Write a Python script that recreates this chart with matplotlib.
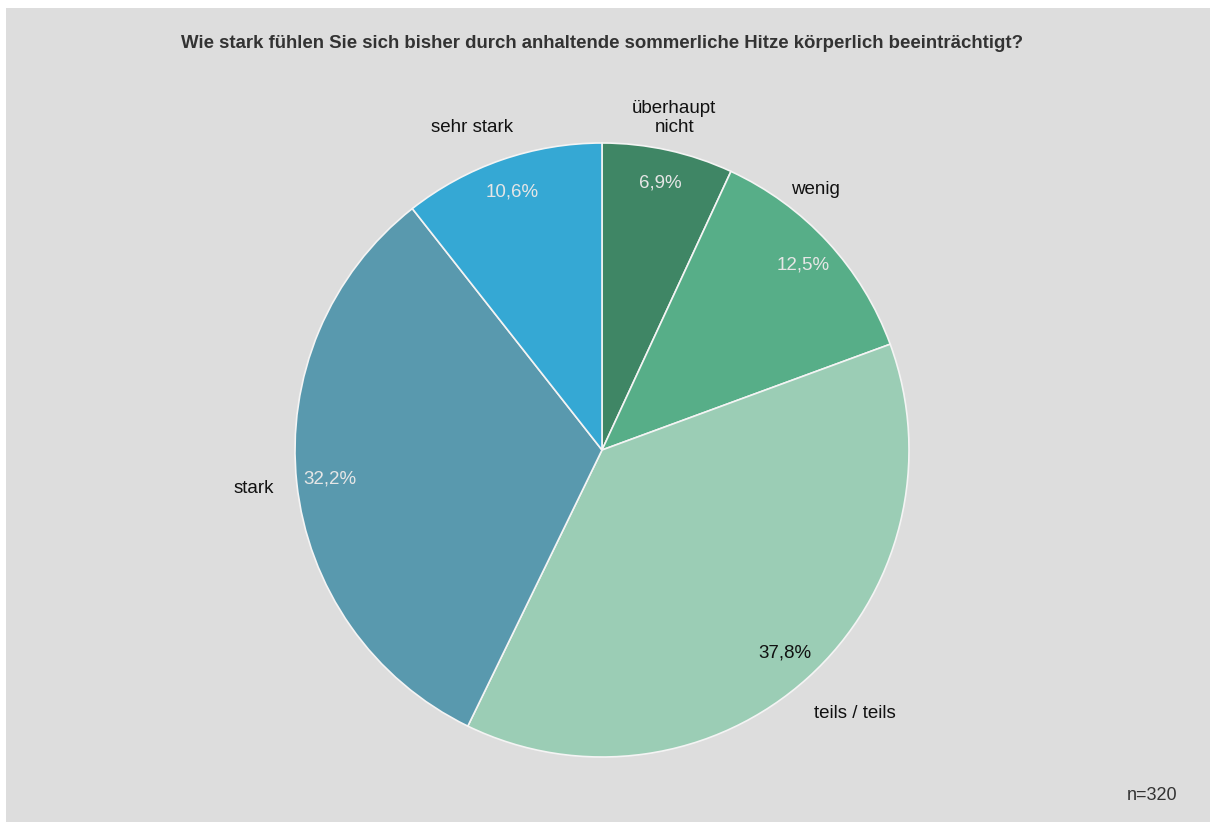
import matplotlib
matplotlib.use("Agg")
import matplotlib.pyplot as plt
from matplotlib.patches import Rectangle

plt.rcParams['font.family'] = ['Liberation Sans', 'DejaVu Sans']

# data
categories = ['überhaupt\nnicht', 'wenig', 'teils / teils', 'stark', 'sehr stark']
values = [6.9, 12.5, 37.8, 32.2, 10.6]
colors = ['#3f8665', '#57ae88', '#9bcdb5', '#5999ae', '#35a8d4']
pct_colors = ['#e6e6e6', '#e6e6e6', '#111111', '#e6e6e6', '#e6e6e6']
# label positions in pie units (radius = 1)
label_pos = [(0.235, 1.081), (0.694, 0.847), (0.824, -0.857), (-1.134, -0.124), (-0.423, 1.052)]
title = 'Wie stark fühlen Sie sich bisher durch anhaltende sommerliche Hitze körperlich beeinträchtigt?'
n_text = 'n=320'

W, H = 1210, 822
fig = plt.figure(figsize=(W / 100, H / 100), dpi=100)
fig.patch.set_facecolor('white')
fig.patches.append(Rectangle((6 / W, 0), 1 - 6 / W, (H - 8) / H, transform=fig.transFigure,
                             facecolor='#dddddd', edgecolor='none', zorder=-1))

# pie axes: center (602, 450) px, radius 307 px
cx, cy, r = 602, 450, 307
ax = fig.add_axes([(cx - r) / W, (H - cy - r) / H, 2 * r / W, 2 * r / H])
ax.set_facecolor('none')

wedges, texts, autotexts = ax.pie(
    values, colors=colors, startangle=90, counterclock=False,
    autopct=lambda p: f'{p:.1f}%'.replace('.', ','), pctdistance=0.89,
    wedgeprops=dict(edgecolor='#f4f4f4', linewidth=1.2),
    textprops=dict(fontsize=13.5), radius=1.0)

for t, c in zip(autotexts, pct_colors):
    t.set_color(c)

for (x, y), lab in zip(label_pos, categories):
    ax.text(x, y, lab, ha='center', va='center', fontsize=13.5, color='#111111',
            linespacing=1.1)

ax.set_xlim(-1, 1)
ax.set_ylim(-1, 1)
ax.set_aspect('equal')
ax.axis('off')

fig.text(602 / W, 1 - 43 / H, title, ha='center', va='center', fontsize=13.4,
         fontweight='bold', color='#333333')
fig.text(1177 / W, 1 - 795 / H, n_text, ha='right', va='center', fontsize=13,
         color='#333333')

fig.savefig('out.png', dpi=100, facecolor=fig.get_facecolor())
